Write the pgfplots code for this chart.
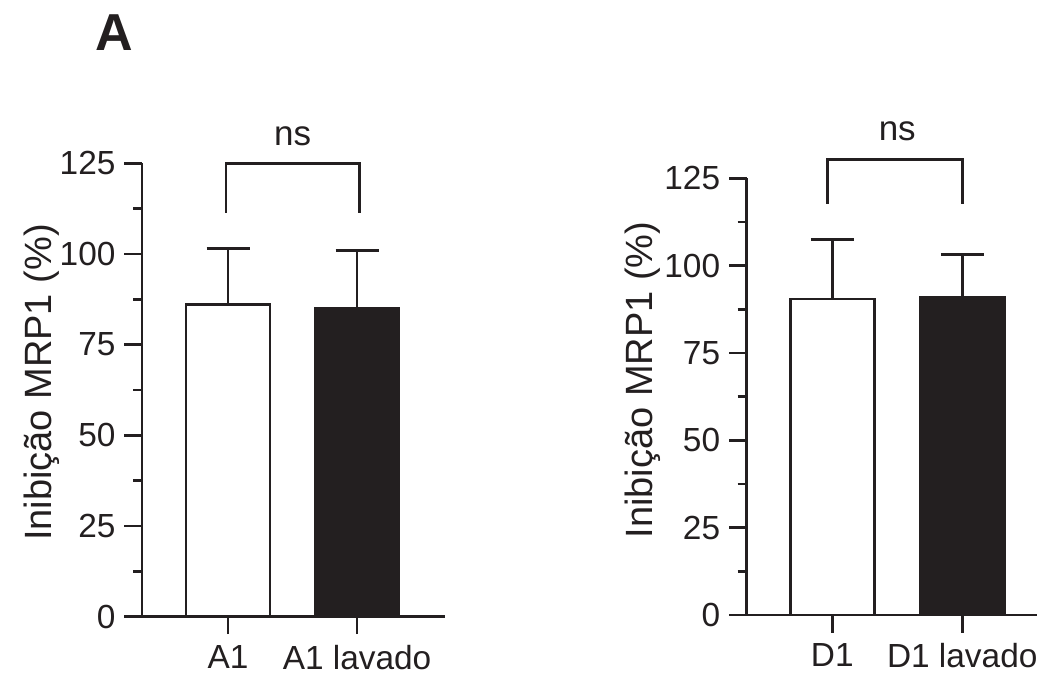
\documentclass[border=0pt]{standalone}
\usepackage{pgfplots}
\pgfplotsset{compat=1.18}
\usepackage{fontspec}
\setmainfont{Liberation Sans}
\definecolor{ink}{HTML}{231F20}

\pgfplotsset{
  panel/.style={
    scale only axis,
    axis x line*=bottom,
    axis y line*=left,
    axis line style={-, line width=1.4pt, ink},
    every tick/.style={line width=1.4pt, ink},
    tick align=outside,
    major tick length=8.75pt,
    minor tick length=4.5pt,
    ymin=0, ymax=125,
    ytick={0,25,50,75,100,125},
    minor y tick num=1,
    xtick={0,1},
    /pgf/number format/assume math mode=true,
    tick label style={font=\fontsize{16.7}{16.7}\selectfont, text=ink},
    yticklabel style={xshift=-1pt},
    xticklabel style={yshift=-2pt},
    label style={font=\fontsize{19}{19}\selectfont, text=ink},
    ybar, bar width=42pt, bar shift=0pt,
    clip=false,
  },
  errs/.style={
    error bars/y dir=plus, error bars/y explicit,
    error bars/error bar style={line width=1.3pt, ink},
    error bars/error mark options={line width=1.3pt, ink, mark size=10.75pt, rotate=90},
  },
  whitebar/.style={draw=ink, fill=white, line width=1.3pt, errs},
  blackbar/.style={draw=ink, fill=ink, line width=1.3pt, errs},
}

\begin{document}
\begin{tikzpicture}
\useasboundingbox (0pt,0pt) rectangle (519.5pt,-338pt);
\node[font=\bfseries\fontsize{26}{26}\selectfont, text=ink] at (57pt,-16.5pt) {A};

% Left panel
\begin{axis}[panel,
  at={(71pt,-308.35pt)}, anchor=south west,
  width=151.5pt, height=226.7pt,
  xmin=-0.667, xmax=1.682,
  xticklabels={A1, A1 lavado},
  ylabel={Inibição MRP1 (\%)},
  ylabel style={at={(axis description cs:-0.330,0.5165)}, anchor=center},
]
\addplot[whitebar] coordinates {(0,86) +- (0,15.5)};
\addplot[blackbar] coordinates {(1,85) +- (0,16)};
\draw[line width=1.3pt, ink] (axis cs:-0.015,111.4) -- (axis cs:-0.015,125) -- (axis cs:1.02,125) -- (axis cs:1.02,111.4);
\node[anchor=base, font=\fontsize{17.5}{17.5}\selectfont, text=ink] at (axis cs:0.5,130) {ns};
\end{axis}

% Right panel
\begin{axis}[panel,
  at={(373.35pt,-307.5pt)}, anchor=south west,
  width=145.15pt, height=218.35pt,
  xmin=-0.658, xmax=1.575,
  xticklabels={D1, D1 lavado},
  ylabel={Inibição MRP1 (\%)},
  ylabel style={at={(axis description cs:-0.359,0.538)}, anchor=center},
]
\addplot[whitebar] coordinates {(0,90.5) +- (0,17)};
\addplot[blackbar] coordinates {(1,91) +- (0,12.2)};
\draw[line width=1.3pt, ink] (axis cs:-0.035,117.7) -- (axis cs:-0.035,130.4) -- (axis cs:1.0,130.4) -- (axis cs:1.0,117.7);
\node[anchor=base, font=\fontsize{17.5}{17.5}\selectfont, text=ink] at (axis cs:0.5,135.7) {ns};
\end{axis}
\end{tikzpicture}
\end{document}
